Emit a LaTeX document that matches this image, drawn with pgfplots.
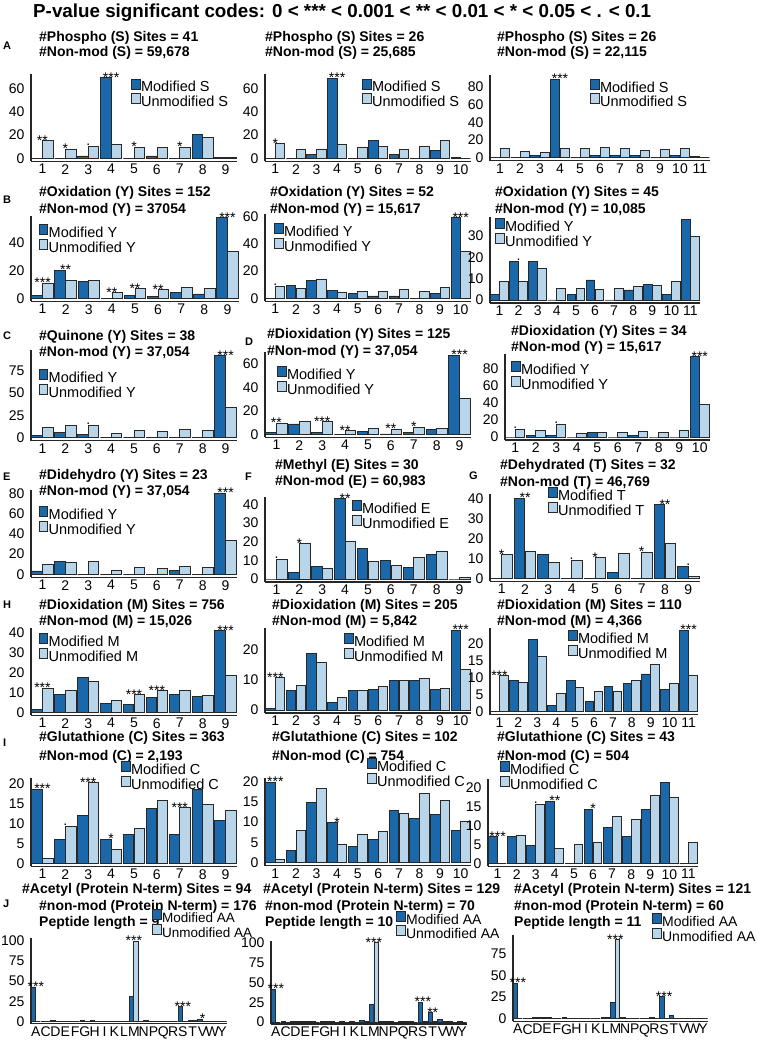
\documentclass[border=0pt]{standalone}
\usepackage{pgfplots}
\usepackage{pgfplotstable}
\pgfplotsset{compat=1.18}
\usepackage{fontspec}
\setmainfont{Liberation Sans}
\definecolor{modblue}{RGB}{26,104,170}
\definecolor{unblue}{RGB}{184,213,234}
\definecolor{edge}{RGB}{40,40,40}
\newcommand\ttl{\fontsize{14}{16}\selectfont\bfseries}
\newcommand\tickf{\fontsize{14}{15}\selectfont}
\newcommand\legf{\fontsize{14.5}{15}\selectfont}
\newcommand\sigf{\fontsize{14}{14}\selectfont}
\newcommand\sdot{\raisebox{5.5pt}{.}}

\pgfplotsset{
 panel/.style={
   scale only axis, anchor=south west, clip=false,
   axis lines=left, axis line style={-, line width=1.5pt, black!85},
   major tick length=0pt, tick style={draw=none},
   ybar, bar width=0.46,
   xmin=0.5, enlargelimits=false,
   ticklabel style={font=\tickf},
   /pgf/number format/assume math mode=true,
   yticklabel style={xshift=-3pt},
   xticklabel style={yshift=0.5pt},
   legend cell align=left,
   legend style={at={(axis description cs:0,0)}, anchor=north west, draw=none, fill=none,
     inner sep=0pt, row sep=-2pt, column sep=0pt, font=\legf,
     nodes={inner sep=0.5pt, text height=9.5pt, text depth=2.5pt}},
   legend image code/.code={\draw[#1, line width=0.9pt] (0pt,-0.5pt) rectangle (8.5pt,9.5pt);},
 },
 modbar/.style={fill=modblue, draw=edge, line width=0.9pt, bar shift=-0.235},
 unbar/.style={fill=unblue, draw=edge, line width=0.9pt, bar shift=0.235},
 sigbar/.style={draw=none, fill=none, bar shift=0, forget plot, nodes near coords,
   point meta=explicit symbolic,
   nodes near coords style={font=\sigf, anchor=base, inner sep=0pt, yshift=-4.5pt}},
}
\newcommand\bars[3]{%
 \addplot[modbar] table[x=c,y=m]{#1};
 \addplot[unbar] table[x=c,y=u]{#1};
 \addplot[sigbar] table[x=c,y expr={max(\thisrow{m},\thisrow{u})},meta=s]{#1};
 \legend{#2,#3}}
\newcommand\ttlnode[3]{\node[anchor=base west, font=\ttl, inner sep=0pt] at (#1pt,-#2pt) {#3};}
\newcommand\letnode[3]{\node[anchor=base west, font=\fontsize{11}{12}\selectfont\bfseries, inner sep=0pt] at (#1pt,-#2pt) {#3};}

% ---------------- data ----------------
\pgfplotstableread{
c m u s
1 0 15 {**}
2 0 8 {*}
3 2 10 {\sdot}
4 69 11.5 {***}
5 0 9.4 {*}
6 2 9.4 {}
7 0 9.4 {*}
8 20.6 17.7 {}
9 0.4 0.4 {}
}\tAa
\pgfplotstableread{
c m u s
1 0 12.6 {*}
2 0 8 {}
3 3.4 8 {}
4 68.6 12 {***}
5 0 9.7 {}
6 14.9 10.3 {}
7 3.4 7.7 {}
8 0 10.3 {}
9 7 14.9 {}
10 0.8 0 {}
}\tAb
\pgfplotstableread{
c m u s
1 0 11 {}
2 0 7.5 {}
3 2.6 6.4 {}
4 89 11 {***}
5 0 10.5 {}
6 2.6 12 {}
7 2.6 10.5 {}
8 2.6 8.3 {}
9 0 9 {}
10 2.6 11 {}
11 1.2 0 {}
}\tAc
\pgfplotstableread{
c m u s
1 1.7 10.7 {***}
2 20.2 12.4 {**}
3 11.7 12.6 {}
4 0 4 {**}
5 1.7 6.7 {**}
6 1 6 {**}
7 4 7.6 {}
8 3.1 6.9 {}
9 57.6 33.3 {***}
}\tBa
\pgfplotstableread{
c m u s
1 0 8.5 {\sdot}
2 9.3 7 {}
3 13.4 13.9 {}
4 5.6 4.1 {}
5 3.7 5.1 {}
6 1.7 5.1 {}
7 1.7 6.6 {}
8 0 5.1 {}
9 3.7 8 {}
10 59 34 {***}
}\tBb
\pgfplotstableread{
c m u s
1 2.6 8.6 {}
2 18.3 8.6 {\sdot}
3 18.3 14.7 {}
4 0 5.3 {}
5 2.5 5.3 {}
6 9.4 5 {}
7 0 5.6 {}
8 4.7 6.2 {}
9 7.2 6.9 {}
10 2.5 8.9 {}
11 38 29.7 {}
}\tBc
\pgfplotstableread{
c m u s
1 3 11.6 {}
2 6 13.8 {}
3 3.7 13.8 {\sdot}
4 0 5.2 {}
5 0 7.8 {}
6 0 6.7 {}
7 0 9 {}
8 0 7.8 {}
9 91.8 33.6 {***}
}\tC
\pgfplotstableread{
c m u s
1 1.7 9.4 {**}
2 8.8 10.8 {}
3 1.7 10.8 {***}
4 0 3.1 {**}
5 2.6 5.1 {}
6 0.3 4.3 {**}
7 1.7 6 {*}
8 4.3 5.1 {}
9 67.6 30.7 {***}
}\tDa
\pgfplotstableread{
c m u s
1 0 9 {\sdot}
2 2.3 7.4 {}
3 2.3 14.8 {\sdot}
4 0 4.3 {}
5 5.4 5.4 {}
6 0 5 {}
7 2.3 6.6 {}
8 0 5.4 {}
9 0 8.2 {}
10 93.6 38 {***}
}\tDb
\pgfplotstableread{
c m u s
1 3.3 10.2 {}
2 12.5 11.8 {}
3 0 12.5 {}
4 0 4.3 {}
5 0 6.9 {}
6 0 5.9 {}
7 3.6 7.6 {}
8 0 6.9 {}
9 80 33 {***}
}\tE
\pgfplotstableread{
c m u s
1 0 10.2 {\sdot}
2 3.4 19 {*}
3 6.6 5.9 {}
4 43 20 {**}
5 16.4 9.3 {}
6 9.8 7.3 {}
7 6.4 11.3 {}
8 13 15 {}
9 0 0.7 {}
}\tF
\pgfplotstableread{
c m u s
1 0 11.7 {*}
2 40 13.3 {**}
3 12 8 {}
4 0 8.8 {\sdot}
5 0 10.3 {*}
6 2.8 12.5 {}
7 0 13 {*}
8 36.7 17.2 {**}
9 5.7 1 {\sdot}
}\tG
\pgfplotstableread{
c m u s
1 1.2 12 {***}
2 9 10.8 {}
3 17.5 15.3 {}
4 4.5 5.8 {}
5 4 8.7 {***}
6 7.3 10.8 {***}
7 9 10.8 {}
8 7.8 8.3 {}
9 40.8 18.3 {***}
}\tHa
\pgfplotstableread{
c m u s
1 0.6 10.7 {***}
2 6.3 8.2 {}
3 18.7 15.7 {}
4 2.4 4.2 {}
5 6.4 6.3 {}
6 6.8 7.7 {}
7 9.9 9.6 {}
8 9.6 10.4 {}
9 6.8 7.1 {}
10 26.4 13.4 {***}
}\tHb
\pgfplotstableread{
c m u s
1 0 10.6 {***}
2 9.3 8.5 {}
3 21.3 16.2 {}
4 1.9 5.4 {}
5 9.3 7.1 {}
6 2.9 5.9 {}
7 7.5 5.9 {}
8 8.3 9.1 {}
9 11.1 13.9 {}
10 6.6 8.2 {}
11 24 10.8 {***}
}\tHc
\pgfplotstableread{
c m u s
1 18.5 1.25 {***}
2 6 9.2 {\sdot}
3 11.9 20.2 {***}
4 6 3.5 {*}
5 7.1 8.75 {}
6 13.75 15.7 {}
7 7.1 13.9 {***}
8 18.5 14.75 {}
9 10.8 13.3 {}
}\tIa
\pgfplotstableread{
c m u s
1 19.8 0.7 {***}
2 2.9 7.8 {}
3 14.8 18.3 {}
4 9.8 4.5 {*}
5 3.9 7 {}
6 5.8 7.6 {}
7 12.8 12 {}
8 10.9 17 {}
9 11.8 15.2 {}
10 7.8 10.1 {}
}\tIb
\pgfplotstableread{
c m u s
1 7 0 {***}
2 7 7.5 {}
3 4.7 15.5 {\sdot}
4 16.5 4 {**}
5 0 4.9 {}
6 14.3 5.5 {*}
7 9.6 12.4 {}
8 7.1 11.7 {}
9 14.2 17.9 {}
10 21.4 17.4 {}
11 0 5.5 {}
}\tIc
\pgfplotstableread{
c m u s
1 42.5 0 {***}
2 0.3 0 {}
3 1 0.4 {}
4 0.3 0 {}
5 0.3 0 {}
6 1 0.5 {}
7 0.8 0 {}
8 0.5 0 {}
9 0.5 0.3 {}
10 0.5 0.3 {}
11 30.7 99 {***}
12 0.5 1 {}
13 0.3 0 {}
14 0.3 0 {}
15 0.3 0 {}
16 18 0.3 {***}
17 1.6 1 {}
18 2.9 0.5 {*}
19 0.3 0 {}
20 0.3 0 {}
}\tJa
\pgfplotstableread{
c m u s
1 41.5 0 {***}
2 0.3 0 {}
3 0.8 0.5 {}
4 0.8 0.3 {}
5 0.3 0 {}
6 0.8 0.3 {}
7 0.3 0 {}
8 0.3 0 {}
9 0.3 0 {}
10 2 0.5 {}
11 22 100 {***}
12 0.3 0.3 {}
13 0.3 0 {}
14 0.8 0.5 {}
15 0.3 0 {}
16 25 0.3 {***}
17 11.7 0.5 {**}
18 3 0.3 {}
19 0.3 0 {}
20 0.3 0 {}
}\tJb
\pgfplotstableread{
c m u s
1 40.5 0 {***}
2 0.3 0 {}
3 1.2 0.8 {}
4 1 0.5 {}
5 0.3 0 {}
6 0.8 0.3 {}
7 0.3 0 {}
8 0.3 0 {}
9 0.3 0 {}
10 1.5 0.5 {}
11 18 91.5 {***}
12 0.8 0.3 {}
13 0.3 0 {}
14 0.3 0 {}
15 1.5 0.3 {}
16 25 0.3 {***}
17 3.5 0.3 {}
18 0.3 0 {}
19 0.3 0 {}
20 0.3 0 {}
}\tJc

\begin{document}
\begin{tikzpicture}
\useasboundingbox (0pt,0pt) rectangle (757pt,-1041pt);
\node[anchor=base west, inner sep=0pt, font=\fontsize{18.8}{20}\selectfont\bfseries] at (33pt,-17.8pt)
 {P-value significant codes: 0 < *** < 0.001 < ** < 0.01 < * < 0.05 < . < 0.1};

% ----- Row A -----
\letnode{3}{50}{A}
\ttlnode{39}{42}{\#Phospho (S) Sites = 41}
\ttlnode{39}{57}{\#Non-mod (S) = 59,678}
\ttlnode{265}{42}{\#Phospho (S) Sites = 26}
\ttlnode{265}{57}{\#Non-mod (S) = 25,685}
\ttlnode{497}{42}{\#Phospho (S) Sites = 26}
\ttlnode{497}{57}{\#Non-mod (S) = 22,115}
\begin{axis}[panel, at={(31pt,-161.3pt)}, width=206pt, height=87pt, xmax=9.5, ymin=-2.57, ymax=72,
 xtick={1,...,9}, ytick={0,20,40,60}, legend style={xshift=100pt, yshift=83pt}]
\bars{\tAa}{Modified S}{Unmodified S}
\end{axis}
\begin{axis}[panel, at={(265pt,-161.3pt)}, width=206pt, height=87pt, xmax=10.5, ymin=-2.57, ymax=72,
 xtick={1,...,10}, ytick={0,20,40,60}, legend style={xshift=97pt, yshift=83pt}]
\bars{\tAb}{Modified S}{Unmodified S}
\end{axis}
\begin{axis}[panel, at={(490pt,-160.7pt)}, width=220pt, height=85.6pt, xmax=11.5, ymin=-3.4, ymax=93.6,
 xtick={1,...,11}, ytick={0,20,40,60,80}, legend style={xshift=100pt, yshift=82pt}]
\bars{\tAc}{Modified S}{Unmodified S}
\end{axis}

% ----- Row B -----
\letnode{3}{203}{B}
\ttlnode{39}{196.7}{\#Oxidation (Y) Sites = 152}
\ttlnode{39}{213.3}{\#Non-mod (Y) = 37054}
\ttlnode{270}{196.7}{\#Oxidation (Y) Sites = 52}
\ttlnode{270}{213.3}{\#Non-mod (Y) = 15,617}
\ttlnode{495}{196.7}{\#Oxidation (Y) Sites = 45}
\ttlnode{495}{213.3}{\#Non-mod (Y) = 10,085}
\begin{axis}[panel, at={(31pt,-301.3pt)}, width=208pt, height=85.6pt, xmax=9.5, ymin=-2.14, ymax=59,
 xtick={1,...,9}, ytick={0,20,40}, legend style={xshift=7.6pt, yshift=77.3pt}]
\bars{\tBa}{Modified Y}{Unmodified Y}
\end{axis}
\begin{axis}[panel, at={(265pt,-301.3pt)}, width=206pt, height=87.7pt, xmax=10.5, ymin=-2.19, ymax=62,
 xtick={1,...,10}, ytick={0,20,40,60}, legend style={xshift=9pt, yshift=78.3pt}]
\bars{\tBb}{Modified Y}{Unmodified Y}
\end{axis}
\begin{axis}[panel, at={(490pt,-303pt)}, width=210pt, height=86.1pt, xmax=11.5, ymin=-1.41, ymax=39,
 xtick={1,...,11}, ytick={0,10,20,30}, legend style={xshift=5pt, yshift=85pt}]
\bars{\tBc}{Modified Y}{Unmodified Y}
\end{axis}

% ----- Row C / D -----
\letnode{3}{339}{C}
\letnode{245}{345}{D}
\ttlnode{39}{340}{\#Quinone (Y) Sites = 38}
\ttlnode{39}{356.7}{\#Non-mod (Y) = 37,054}
\ttlnode{267}{338.3}{\#Dioxidation (Y) Sites = 125}
\ttlnode{267}{355}{\#Non-mod (Y) = 37,054}
\ttlnode{511}{335}{\#Dioxidation (Y) Sites = 34}
\ttlnode{511}{351.7}{\#Non-mod (Y) = 15,617}
\begin{axis}[panel, at={(31pt,-440.7pt)}, width=206pt, height=90.5pt, xmax=9.5, ymin=-3.36, ymax=98,
 xtick={1,...,9}, ytick={0,25,50,75}, legend style={xshift=7.6pt, yshift=71.7pt}]
\bars{\tC}{Modified Y}{Unmodified Y}
\end{axis}
\begin{axis}[panel, at={(265pt,-437.3pt)}, width=206pt, height=85.1pt, xmax=9.5, ymin=-2.56, ymax=70,
 xtick={1,...,9}, ytick={0,20,40,60}, legend style={xshift=12pt, yshift=71.3pt}]
\bars{\tDa}{Modified Y}{Unmodified Y}
\end{axis}
\begin{axis}[panel, at={(505pt,-440pt)}, width=205pt, height=86.2pt, xmax=10.5, ymin=-3.5, ymax=97,
 xtick={1,...,10}, ytick={0,20,40,60,80}, legend style={xshift=6pt, yshift=79pt}]
\bars{\tDb}{Modified Y}{Unmodified Y}
\end{axis}

% ----- Row E / F / G -----
\letnode{3}{480}{E}
\letnode{245}{480}{F}
\letnode{469}{479}{G}
\ttlnode{39}{479}{\#Didehydro (Y) Sites = 23}
\ttlnode{39}{495}{\#Non-mod (Y) = 37,054}
\ttlnode{275}{469}{\#Methyl (E) Sites = 30}
\ttlnode{275}{485.7}{\#Non-mod (E) = 60,983}
\ttlnode{500}{469}{\#Dehydrated (T) Sites = 32}
\ttlnode{500}{486.7}{\#Non-mod (T) = 46,769}
\begin{axis}[panel, at={(31pt,-577.3pt)}, width=206pt, height=87.1pt, xmax=9.5, ymin=-2.96, ymax=83,
 xtick={1,...,9}, ytick={0,20,40,60,80}, legend style={xshift=7.6pt, yshift=71.3pt}]
\bars{\tE}{Modified Y}{Unmodified Y}
\end{axis}
\begin{axis}[panel, at={(265pt,-582pt)}, width=206pt, height=85.2pt, xmax=9.5, ymin=-1.61, ymax=44,
 xtick={1,...,9}, ytick={0,10,20,30,40}, legend style={xshift=87pt, yshift=82pt}]
\bars{\tF}{Modified E}{Unmodified E}
\end{axis}
\begin{axis}[panel, at={(490pt,-581.3pt)}, width=210pt, height=87pt, xmax=9.5, ymin=-1.5, ymax=42,
 xtick={1,...,9}, ytick={0,10,20,30,40}, legend style={xshift=58pt, yshift=94.3pt}]
\bars{\tG}{Modified T}{Unmodified T}
\end{axis}

% ----- Row H -----
\letnode{3}{608}{H}
\ttlnode{39}{609}{\#Dioxidation (M) Sites = 756}
\ttlnode{39}{625.7}{\#Non-mod (M) = 15,026}
\ttlnode{272}{609}{\#Dioxidation (M) Sites = 205}
\ttlnode{272}{625.7}{\#Non-mod (M) = 5,842}
\ttlnode{497}{609}{\#Dioxidation (M) Sites = 110}
\ttlnode{497}{625.7}{\#Non-mod (M) = 4,366}
\begin{axis}[panel, at={(31pt,-715.3pt)}, width=206pt, height=87pt, xmax=9.5, ymin=-1.5, ymax=42,
 xtick={1,...,9}, ytick={0,10,20,30,40}, legend style={xshift=7.6pt, yshift=82.3pt}]
\bars{\tHa}{Modified M}{Unmodified M}
\end{axis}
\begin{axis}[panel, at={(265pt,-713pt)}, width=206pt, height=84.8pt, xmax=10.5, ymin=-0.99, ymax=27,
 xtick={1,...,10}, ytick={0,10,20}, legend style={xshift=79pt, yshift=80pt}]
\bars{\tHb}{Modified M}{Unmodified M}
\end{axis}
\begin{axis}[panel, at={(490pt,-714.7pt)}, width=208pt, height=86.3pt, xmax=11.5, ymin=-0.88, ymax=24.5,
 xtick={1,...,11}, ytick={0,5,10,15,20}, legend style={xshift=78pt, yshift=84.7pt}]
\bars{\tHc}{Modified M}{Unmodified M}
\end{axis}

% ----- Row I -----
\letnode{3}{746}{I}
\ttlnode{39}{741.7}{\#Glutathione (C) Sites = 363}
\ttlnode{39}{760}{\#Non-mod (C) = 2,193}
\ttlnode{272}{741.7}{\#Glutathione (C) Sites = 102}
\ttlnode{272}{760}{\#Non-mod (C) = 754}
\ttlnode{497}{741.7}{\#Glutathione (C) Sites = 43}
\ttlnode{497}{760}{\#Non-mod (C) = 504}
\begin{axis}[panel, at={(31pt,-866.3pt)}, width=206pt, height=88.2pt, xmax=9.5, ymin=-0.75, ymax=21.3,
 xtick={1,...,9}, ytick={0,5,10,15,20}, legend style={xshift=90pt, yshift=105.3pt}]
\bars{\tIa}{Modified C}{Unmodified C}
\end{axis}
\begin{axis}[panel, at={(265pt,-865.7pt)}, width=206pt, height=87.3pt, xmax=10.5, ymin=-0.74, ymax=20.7,
 xtick={1,...,10}, ytick={0,5,10,15,20}, legend style={xshift=102pt, yshift=107.7pt}]
\bars{\tIb}{Modified C}{Unmodified C}
\end{axis}
\begin{axis}[panel, at={(488pt,-866.3pt)}, width=210pt, height=87.8pt, xmax=11.5, ymin=-0.8, ymax=22.5,
 xtick={1,...,11}, ytick={0,5,10,15,20}, legend style={xshift=12pt, yshift=105.3pt}]
\bars{\tIc}{Modified C}{Unmodified C}
\end{axis}

% ----- Row J -----
\letnode{3}{907}{J}
\ttlnode{22}{893.3}{\#Acetyl (Protein N-term) Sites = 94}
\ttlnode{39}{910}{\#non-mod (Protein N-term) = 176}
\ttlnode{39}{926.7}{Peptide length = 9}
\ttlnode{263}{893.3}{\#Acetyl (Protein N-term) Sites = 129}
\ttlnode{265}{910}{\#non-mod (Protein N-term) = 70}
\ttlnode{265}{926.7}{Peptide length = 10}
\ttlnode{514}{893.3}{\#Acetyl (Protein N-term) Sites = 121}
\ttlnode{514}{910}{\#non-mod (Protein N-term) = 60}
\ttlnode{514}{926.7}{Peptide length = 11}
\begin{axis}[panel, at={(31pt,-1023.5pt)}, width=196pt, height=85.7pt, xmax=20.5, ymin=-2.46, ymax=103,
 xtick={1,...,20}, xticklabels={A,C,D,E,F,G,H,I,K,L,M,N,P,Q,R,S,T,V,W,Y}, ytick={0,25,50,75,100},
 legend style={xshift=121pt, yshift=114.5pt, font=\fontsize{13.5}{15}\selectfont}]
\bars{\tJa}{Modified AA}{Unmodified AA}
\end{axis}
\begin{axis}[panel, at={(271pt,-1024pt)}, width=196pt, height=82.8pt, xmax=20.5, ymin=-2.44, ymax=102,
 xtick={1,...,20}, xticklabels={A,C,D,E,F,G,H,I,K,L,M,N,P,Q,R,S,T,V,W,Y}, ytick={0,25,50,75,100},
 legend style={xshift=125pt, yshift=113.5pt, font=\fontsize{14}{15}\selectfont}]
\bars{\tJb}{Modified AA}{Unmodified AA}
\end{axis}
\begin{axis}[panel, at={(513pt,-1021.3pt)}, width=195pt, height=86.4pt, xmax=20.5, ymin=-3.5, ymax=97,
 xtick={1,...,20}, xticklabels={A,C,D,E,F,G,H,I,K,L,M,N,P,Q,R,S,T,V,W,Y}, ytick={0,25,50,75},
 legend style={xshift=139pt, yshift=108.3pt, font=\fontsize{14}{15}\selectfont}]
\bars{\tJc}{Modified AA}{Unmodified AA}
\end{axis}
\end{tikzpicture}
\end{document}
